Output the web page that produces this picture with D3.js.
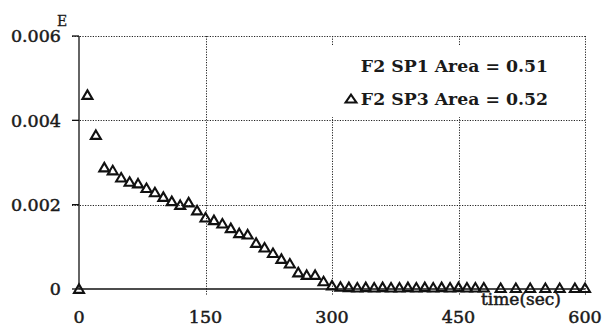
<!DOCTYPE html>
<html>
<head>
<meta charset="utf-8">
<script src="https://cdn.jsdelivr.net/npm/d3@7"></script>
<style>
  body { margin: 0; background: #fff; }
  svg { display: block; }
  text { font-family: "DejaVu Serif", serif; fill: #1a1a1a; }
</style>
</head>
<body>
<svg id="chart" width="603" height="327"></svg>
<script>
// Sampling times (s) and measured E for F2 SP3
const times = [0, 10, 20, 30, 40, 50, 60, 70, 80, 90, 100, 110, 120, 130, 140, 150,
  160, 170, 180, 190, 200, 210, 220, 230, 240, 250, 260, 270, 280, 290, 300, 310,
  320, 330, 340, 350, 360, 370, 380, 390, 400, 410, 420, 430, 440, 450, 460, 470, 480,
  500, 518, 535, 553, 570, 588, 600];
const sp3Values = [0, 0.00460, 0.00365, 0.00288, 0.00281, 0.00264, 0.00254, 0.00250, 0.00239,
  0.00229, 0.00218, 0.00208, 0.00199, 0.00205, 0.00186, 0.00169,
  0.00163, 0.00155, 0.00144, 0.00132, 0.00129, 0.00109, 0.00098, 0.00085, 0.00071, 0.00060,
  0.00039, 0.00033, 0.00033, 0.00018, 0.00008, 0.00005,
  0.00004, 0.00003, 0.00004, 0.00003, 0.00004, 0.00003, 0.00003, 0.00004, 0.00003, 0.00004,
  0.00003, 0.00004, 0.00003, 0.00004, 0.00003, 0.00003, 0.00003,
  0.00002, 0.00002, 0.00002, 0.00002, 0.00002, 0.00002, 0.00002];

const xTicks = [0, 150, 300, 450, 600];
const yTicks = [0, 0.002, 0.004, 0.006];
const yTickLabels = ["0", "0.002", "0.004", "0.006"];
const legendLabels = ["F2 SP1 Area = 0.51", "F2 SP3 Area = 0.52"];
const xTitle = "time(sec)";
const yTitle = "E";

const svg = d3.select("#chart");
const x = d3.scaleLinear().domain([0, 600]).range([79, 585]);
const y = d3.scaleLinear().domain([0, 0.006]).range([289, 36]);

// open triangle marker path, centred on the point
function tri(w, h) {
  return `M0,${-h * 0.55}L${w / 2},${h * 0.45}L${-w / 2},${h * 0.45}Z`;
}

// dotted grid
const grid = svg.append("g").attr("stroke", "#222").attr("stroke-width", 1)
  .attr("stroke-dasharray", "1.2,1.4").attr("fill", "none");
grid.selectAll("line.h").data(yTicks.filter(d => d > 0)).join("line")
  .attr("x1", x(0) - 7).attr("x2", x(600))
  .attr("y1", d => Math.round(y(d)) + 0.5).attr("y2", d => Math.round(y(d)) + 0.5);
grid.selectAll("line.v").data(xTicks.filter(d => d > 0)).join("line")
  .attr("x1", d => Math.round(x(d)) + 0.5).attr("x2", d => Math.round(x(d)) + 0.5)
  .attr("y1", y(0.006)).attr("y2", y(0) + 6);

// legend background
svg.append("rect").attr("x", 318).attr("y", 45).attr("width", 265).attr("height", 72)
  .attr("fill", "#fff");

// axes lines
const axes = svg.append("g").attr("stroke", "#111").attr("stroke-width", 1.3);
axes.append("line").attr("x1", x(0)).attr("x2", x(0)).attr("y1", y(0.006)).attr("y2", y(0));
axes.append("line").attr("x1", x(0)).attr("x2", x(600)).attr("y1", y(0)).attr("y2", y(0));
axes.selectAll("line.yt").data(yTicks).join("line")
  .attr("x1", x(0) - 7).attr("x2", x(0)).attr("y1", d => y(d)).attr("y2", d => y(d));

// tick labels
svg.append("g").selectAll("text").data(yTicks).join("text")
  .attr("x", 61).attr("y", d => y(d)).attr("dy", "0.36em")
  .attr("text-anchor", "end").attr("font-size", 17.5)
  .attr("stroke", "#1a1a1a").attr("stroke-width", 0.5)
  .text((d, i) => yTickLabels[i]);
svg.append("g").selectAll("text").data(xTicks).join("text")
  .attr("x", d => x(d)).attr("y", 323)
  .attr("text-anchor", "middle").attr("font-size", 17.5)
  .attr("stroke", "#1a1a1a").attr("stroke-width", 0.5)
  .text(d => d);

// axis titles
svg.append("text").attr("x", 62).attr("y", 26).attr("text-anchor", "middle")
  .attr("font-size", 14).attr("stroke", "#1a1a1a").attr("stroke-width", 0.3).text(yTitle);
svg.append("text").attr("x", 521).attr("y", 305).attr("text-anchor", "middle")
  .attr("font-size", 17).attr("stroke", "#1a1a1a").attr("stroke-width", 0.5).text(xTitle);

// data markers
svg.append("g").selectAll("path").data(times).join("path")
  .attr("transform", (d, i) => `translate(${x(d)},${y(sp3Values[i])})`)
  .attr("d", tri(10, 8.5))
  .attr("fill", "none").attr("stroke", "#111").attr("stroke-width", 2.1)
  .attr("stroke-linejoin", "miter");

// legend
const lg = svg.append("g");
lg.selectAll("text").data(legendLabels).join("text")
  .attr("x", 548).attr("y", (d, i) => 72 + i * 33)
  .attr("text-anchor", "end").attr("font-size", 17.3).attr("font-weight", "bold")
  .text(d => d);
lg.append("path").attr("transform", "translate(351,99)").attr("d", tri(11, 8))
  .attr("fill", "none").attr("stroke", "#111").attr("stroke-width", 2);
</script>
</body>
</html>
